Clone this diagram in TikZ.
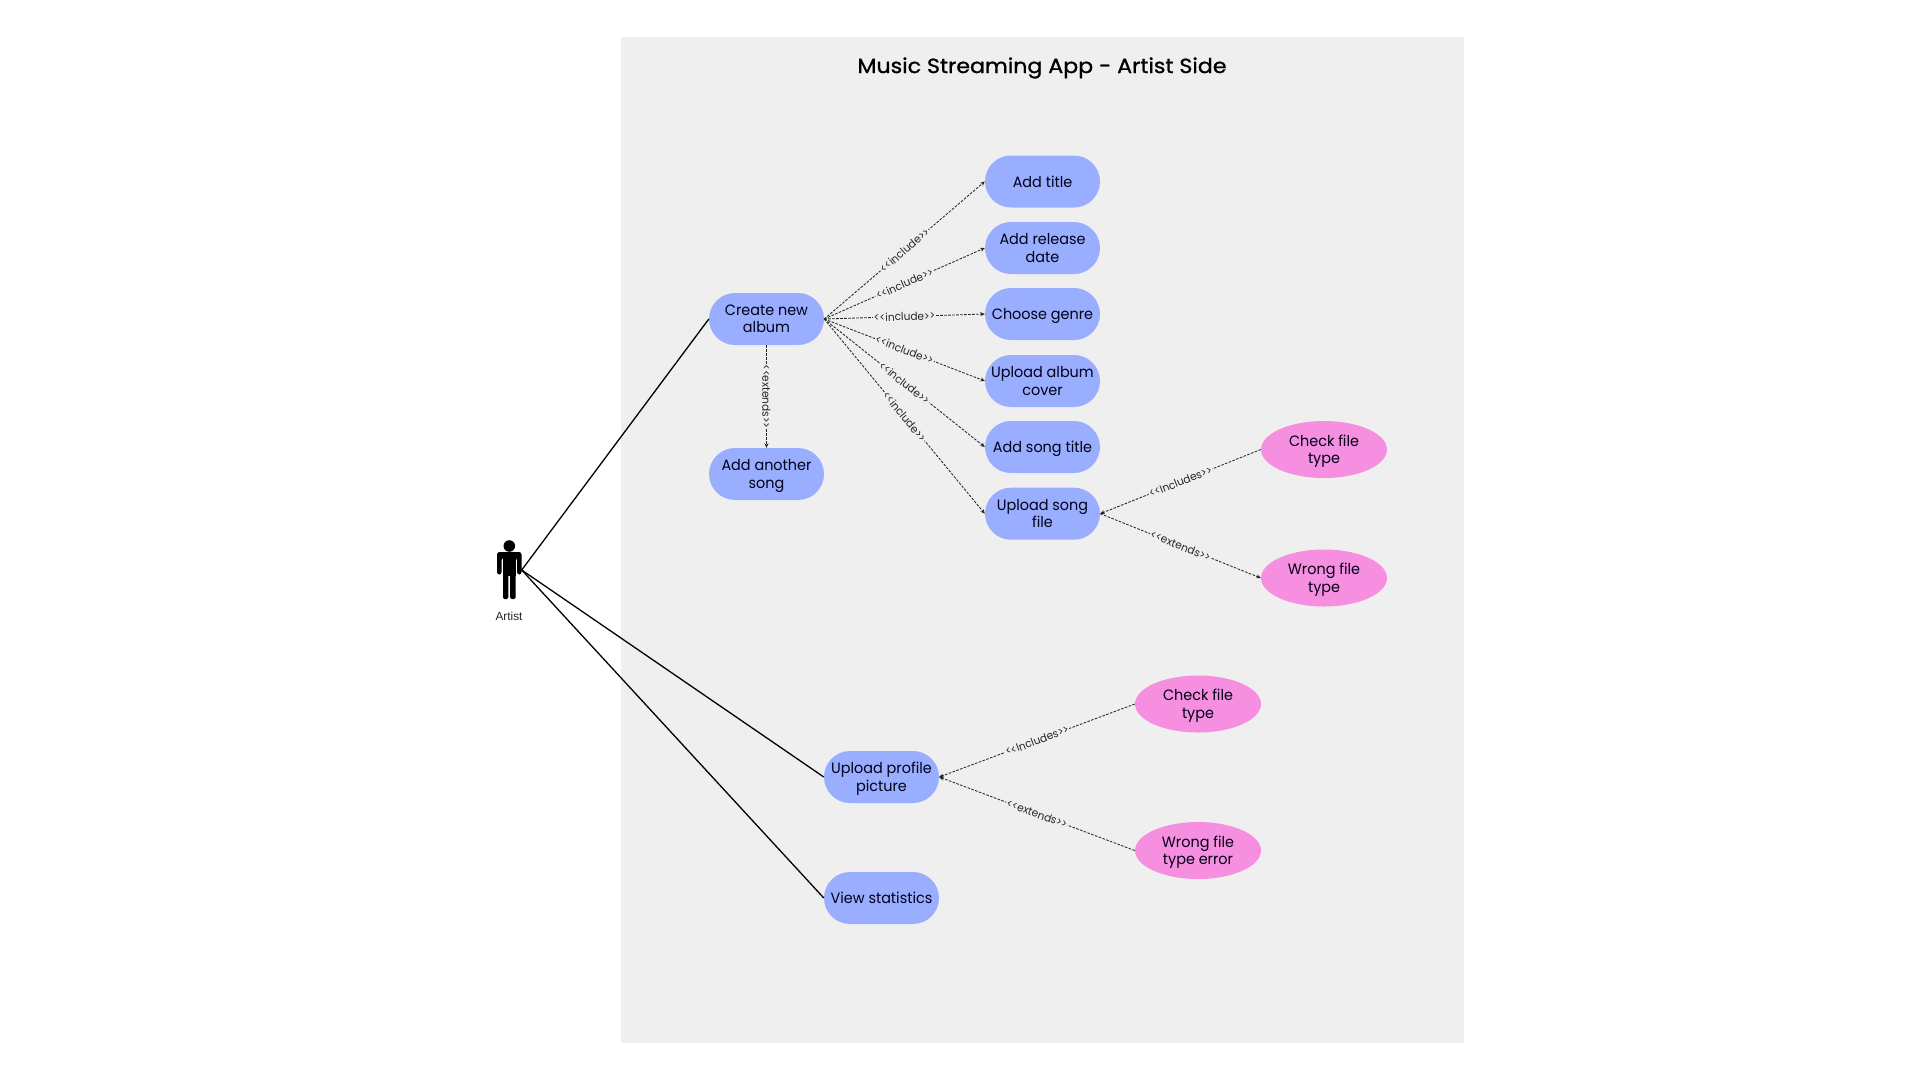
\documentclass[tikz,border=0pt]{standalone}
\usepackage{fontspec}
\setmainfont{Poppins}[FakeStretch=0.96,Ligatures=NoCommon]
\newfontfamily\artistfont{Liberation Sans}
\newfontfamily\titlefont[FakeBold=1,FakeStretch=1.08]{Poppins}
\usetikzlibrary{arrows.meta,shapes.misc,shapes.geometric}
\definecolor{panel}{HTML}{EFEFEF}
\definecolor{pill}{HTML}{99AEFF}
\definecolor{oval}{HTML}{F68FE0}
% drop the descender of a last line from the centring
\newcommand\nodesc[1]{\raisebox{0pt}[\height][0pt]{#1}}
\newcommand\ltlt{{<}\kern-0.3pt{<}}
\newcommand\gtgt{{>}\kern-0.3pt{>}}
\tikzset{
  x=1pt,y=-1pt,
  pillnode/.style={rounded rectangle,fill=pill,minimum width=115pt,minimum height=52pt,inner sep=0pt,align=center,text=black!90!blue,font=\fontsize{15}{17.5}\selectfont},
  ovalnode/.style={ellipse,fill=oval,minimum width=126pt,minimum height=57pt,inner sep=0pt,align=center,text=black!90!blue,font=\fontsize{15}{17.5}\selectfont},
  rel/.style={dash pattern=on 2.6pt off 1.4pt,line width=0.85pt,draw=black!85},
  relarrow/.style={rel,-{Stealth[length=4.5pt,width=4pt]}},
  tag/.style={midway,sloped,fill=panel,inner sep=0.8pt,text=black!85,font=\fontsize{11}{13}\selectfont},
  assoc/.style={line width=1.3pt,draw=black}
}
\begin{document}
\begin{tikzpicture}
\useasboundingbox (0,0) rectangle (1920,1080);
\fill[white] (0,0) rectangle (1920,1080);
\fill[panel] (621.2,37) rectangle (1463.7,1042.7);
\node[font=\titlefont\fontsize{20.5}{24}\selectfont] (title) at (1042,68) {Music Streaming App - Artist Side};

\node[pillnode] (create) at (766.5,319) {Create new\\album};
\node[pillnode] (another) at (766.5,474) {Add another\\\nodesc{song}};
\node[pillnode] (addtitle) at (1042.5,181.5) {Add title};
\node[pillnode] (release) at (1042.5,248) {Add release\\date};
\node[pillnode] (genre) at (1042.5,314) {\nodesc{Choose genre}};
\node[pillnode] (cover) at (1042.5,381) {Upload album\\cover};
\node[pillnode] (songtitle) at (1042.5,447) {\nodesc{Add song title}};
\node[pillnode] (songfile) at (1042.5,513.7) {Upload song\\file};
\node[pillnode] (profile) at (881.5,777) {Upload profile\\\nodesc{picture}};
\node[pillnode] (stats) at (881.5,898) {View statistics};
\node[ovalnode] (check1) at (1324,449.5) {Check file\\\nodesc{type}};
\node[ovalnode] (wrong1) at (1324,578) {Wrong file\\\nodesc{type}};
\node[ovalnode] (check2) at (1198,704) {Check file\\\nodesc{type}};
\node[ovalnode] (wrong2) at (1198,850.5) {Wrong file\\\nodesc{type error}};

% actor
\fill[black] (509.3,546) circle (5.8);
\fill[black,rounded corners=2.5pt] (497,574.5) -- (497,552) -- (521.5,552) -- (521.5,574.5) -- (517,574.5) -- (517,558) -- (501.5,558) -- (501.5,574.5) -- cycle;
\fill[black] (503,555) rectangle (515.5,576);
\fill[black,rounded corners=1.5pt] (503,570) -- (503,599) -- (508.4,599) -- (508.4,570) -- cycle;
\fill[black,rounded corners=1.5pt] (510.1,570) -- (510.1,599) -- (515.5,599) -- (515.5,570) -- cycle;
\coordinate (hub) at (521.7,570);
\node[font=\artistfont\fontsize{11.8}{14}\selectfont,text=black!85] (artist) at (509,616) {Artist};

\draw[assoc] (hub) -- (create.west);
\draw[assoc] (hub) -- (profile.west);
\draw[assoc] (hub) -- (stats.west);

\draw[relarrow] (create.east) -- node[tag] {\ltlt include\gtgt} (addtitle.west);
\draw[relarrow] (create.east) -- node[tag] {\ltlt include\gtgt} (release.west);
\draw[relarrow] (create.east) -- node[tag] {\ltlt include\gtgt} (genre.west);
\draw[relarrow] (create.east) -- node[tag] {\ltlt include\gtgt} (cover.west);
\draw[relarrow] (create.east) -- node[tag] {\ltlt include\gtgt} (songtitle.west);
\draw[relarrow] (create.east) -- node[tag] {\ltlt include\gtgt} (songfile.west);
\draw[relarrow] (create.south) -- node[tag] {\ltlt extends\gtgt} (another.north);
\draw[relarrow] (check1.west) -- node[tag] {\ltlt Includes\gtgt} (songfile.east);
\draw[relarrow] (songfile.east) -- node[tag] {\ltlt extends\gtgt} (wrong1.west);
\draw[relarrow] (check2.west) -- node[tag] {\ltlt Includes\gtgt} (profile.east);
\draw[relarrow] (wrong2.west) -- node[tag] {\ltlt extends\gtgt} (profile.east);
\end{tikzpicture}
\end{document}
